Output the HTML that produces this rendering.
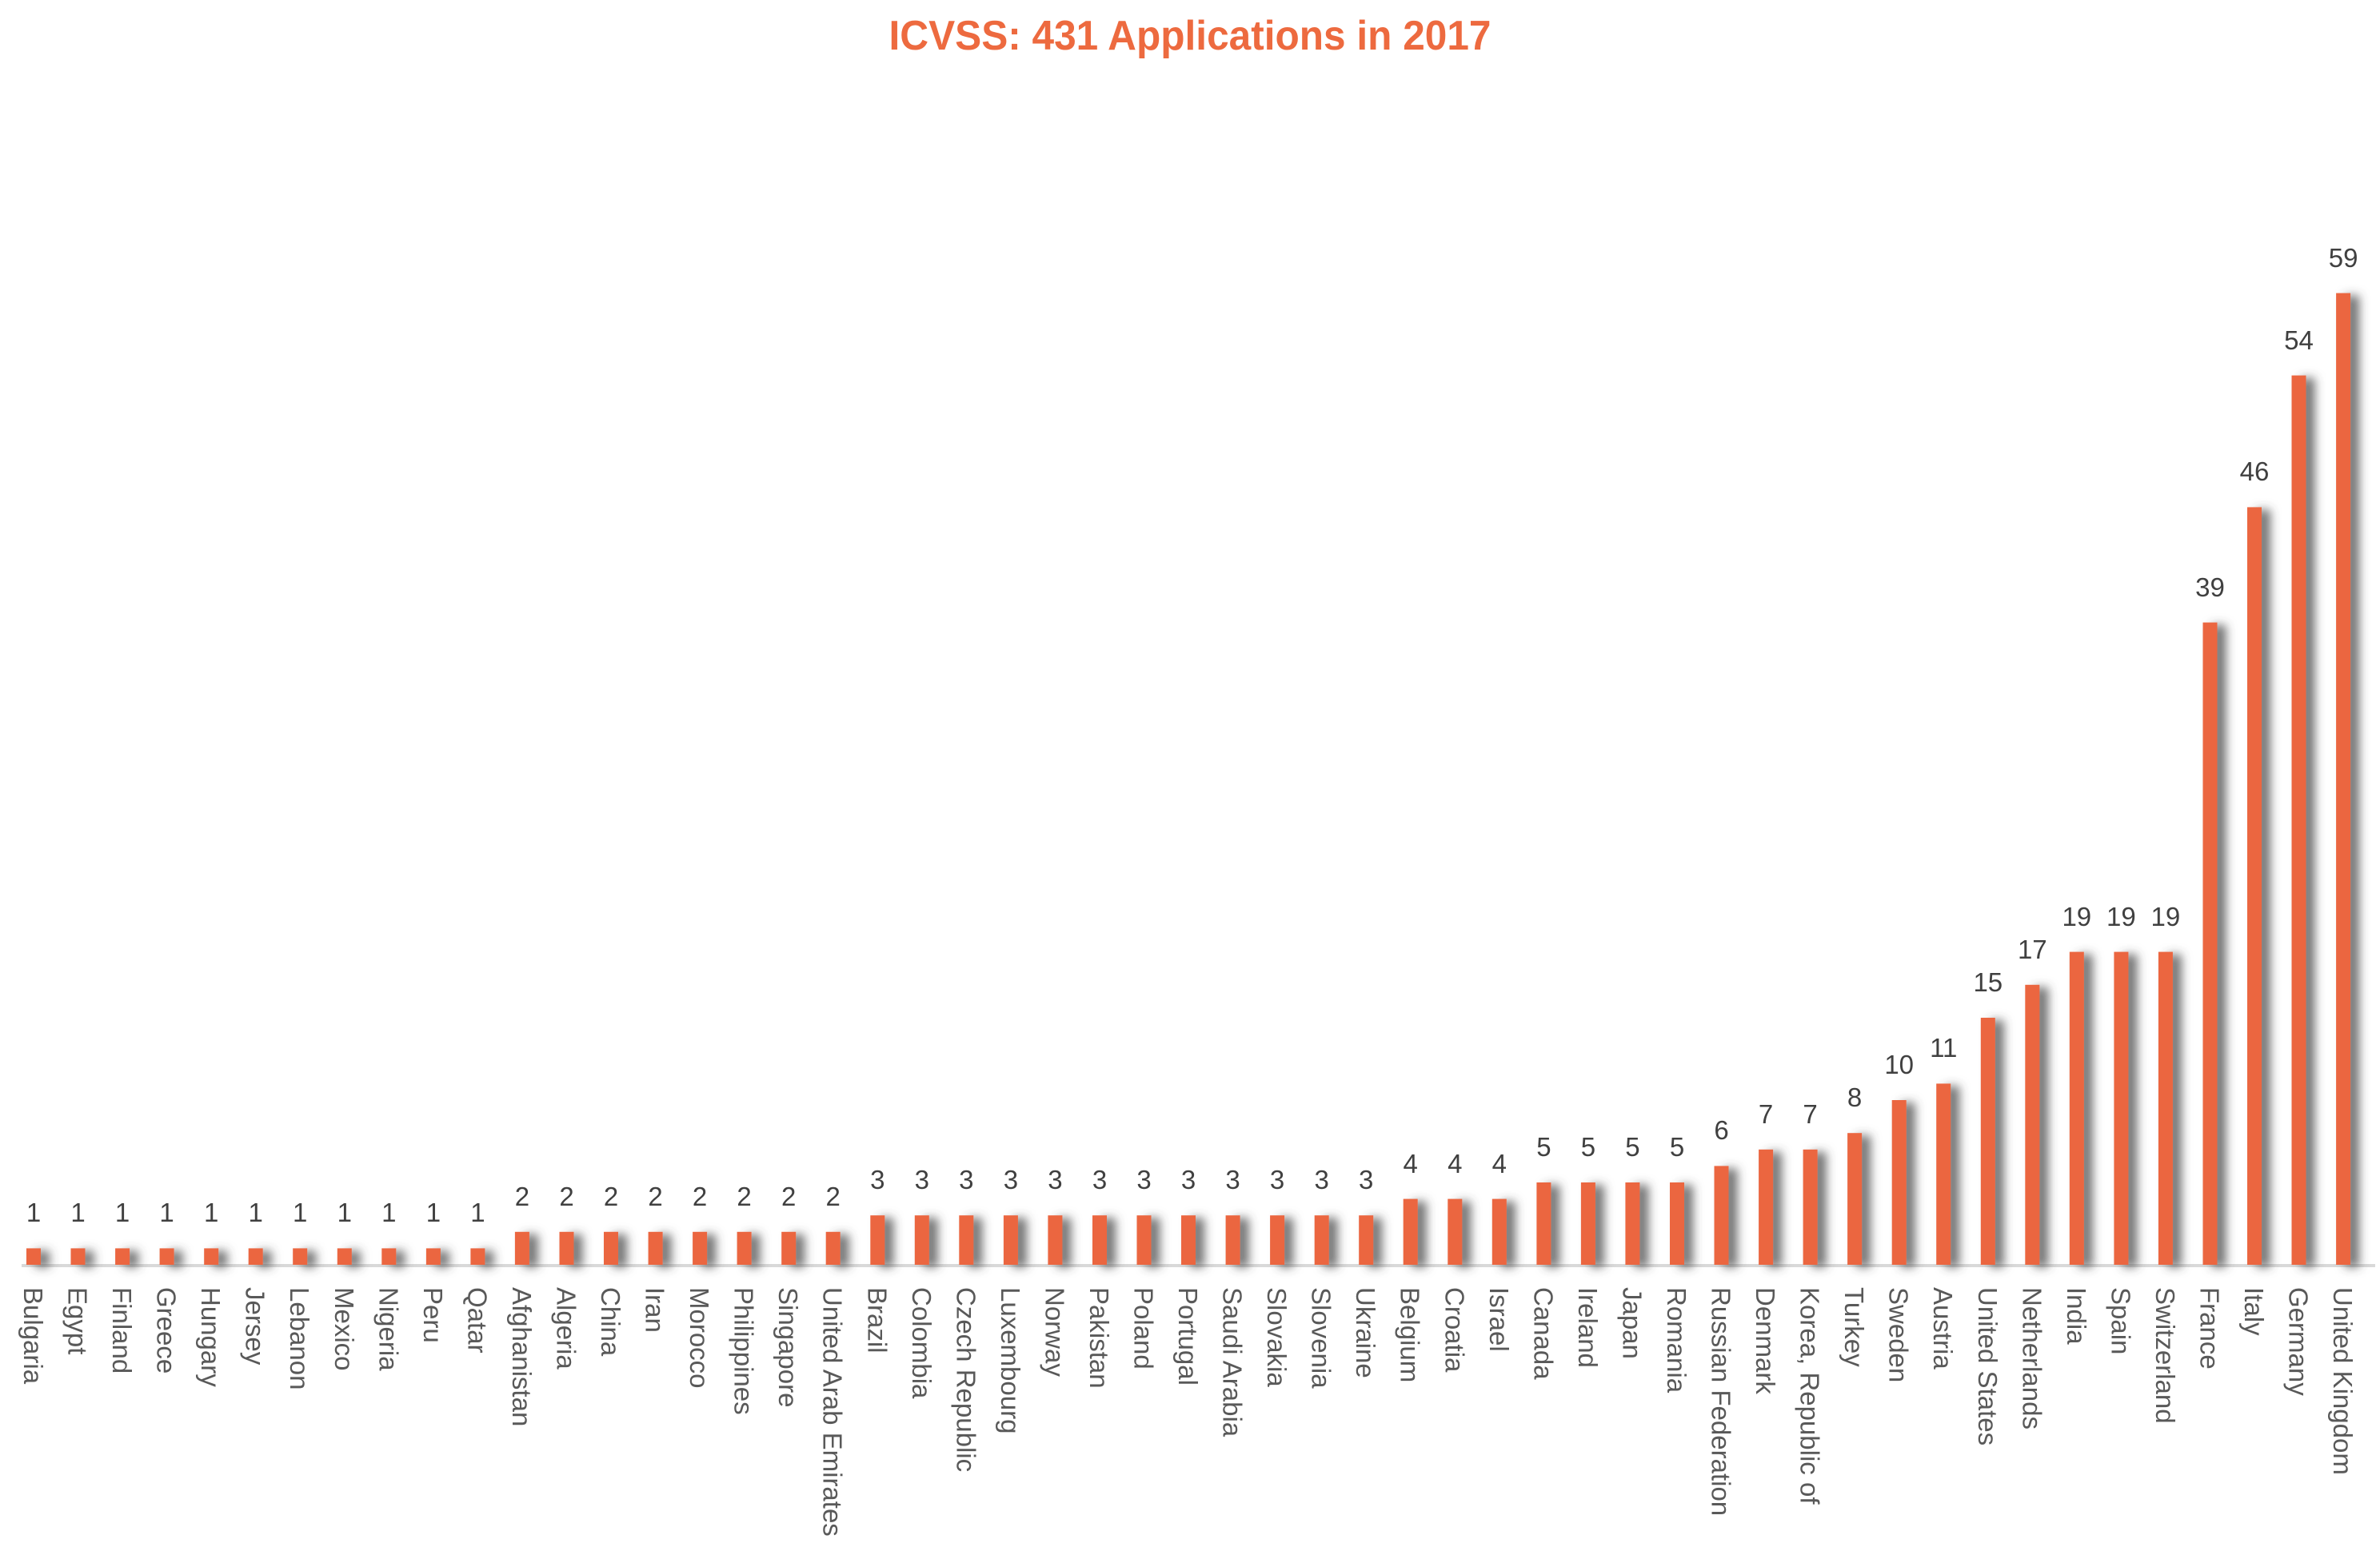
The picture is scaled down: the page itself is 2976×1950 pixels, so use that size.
<!DOCTYPE html>
<html><head><meta charset="utf-8"><style>
html,body{margin:0;padding:0;background:#fff;}
svg{display:block;}
.v{font-family:"Liberation Sans",sans-serif;font-size:33px;fill:#404040;text-anchor:middle;}
.l{font-family:"Liberation Sans",sans-serif;font-size:33px;fill:#595959;}
</style></head><body>
<svg width="2976" height="1950" viewBox="0 0 2976 1950" xmlns="http://www.w3.org/2000/svg">
<defs><filter id="sh" x="-50%" y="-10%" width="300%" height="120%"><feDropShadow dx="11" dy="3" stdDeviation="6" flood-color="#444" flood-opacity="0.75"/></filter></defs>
<rect width="2976" height="1950" fill="#fff"/>
<text x="1488" y="62" text-anchor="middle" font-family="Liberation Sans, sans-serif" font-weight="bold" font-size="52" fill="#ED6A3F" textLength="753" lengthAdjust="spacingAndGlyphs">ICVSS: 431 Applications in 2017</text>
<rect x="27" y="1581" width="2943" height="4" fill="#d9d9d9"/>
<g fill="#EB6640" filter="url(#sh)">
<rect x="33" y="1561.4" width="18" height="20.6"/><rect x="88.5" y="1561.4" width="18" height="20.6"/><rect x="144.1" y="1561.4" width="18" height="20.6"/><rect x="199.6" y="1561.4" width="18" height="20.6"/><rect x="255.2" y="1561.4" width="18" height="20.6"/><rect x="310.7" y="1561.4" width="18" height="20.6"/><rect x="366.2" y="1561.4" width="18" height="20.6"/><rect x="421.8" y="1561.4" width="18" height="20.6"/><rect x="477.3" y="1561.4" width="18" height="20.6"/><rect x="532.9" y="1561.4" width="18" height="20.6"/><rect x="588.4" y="1561.4" width="18" height="20.6"/>
<rect x="643.9" y="1540.8" width="18" height="41.2"/><rect x="699.5" y="1540.8" width="18" height="41.2"/><rect x="755" y="1540.8" width="18" height="41.2"/><rect x="810.6" y="1540.8" width="18" height="41.2"/><rect x="866.1" y="1540.8" width="18" height="41.2"/><rect x="921.6" y="1540.8" width="18" height="41.2"/><rect x="977.2" y="1540.8" width="18" height="41.2"/><rect x="1032.7" y="1540.8" width="18" height="41.2"/>
<rect x="1088.3" y="1520.2" width="18" height="61.8"/><rect x="1143.8" y="1520.2" width="18" height="61.8"/><rect x="1199.3" y="1520.2" width="18" height="61.8"/><rect x="1254.9" y="1520.2" width="18" height="61.8"/><rect x="1310.4" y="1520.2" width="18" height="61.8"/><rect x="1366" y="1520.2" width="18" height="61.8"/><rect x="1421.5" y="1520.2" width="18" height="61.8"/><rect x="1477" y="1520.2" width="18" height="61.8"/><rect x="1532.6" y="1520.2" width="18" height="61.8"/><rect x="1588.1" y="1520.2" width="18" height="61.8"/><rect x="1643.7" y="1520.2" width="18" height="61.8"/><rect x="1699.2" y="1520.2" width="18" height="61.8"/>
<rect x="1754.7" y="1499.6" width="18" height="82.4"/><rect x="1810.3" y="1499.6" width="18" height="82.4"/><rect x="1865.8" y="1499.6" width="18" height="82.4"/>
<rect x="1921.4" y="1479" width="18" height="103"/><rect x="1976.9" y="1479" width="18" height="103"/><rect x="2032.4" y="1479" width="18" height="103"/><rect x="2088" y="1479" width="18" height="103"/>
<rect x="2143.5" y="1458.4" width="18" height="123.6"/>
<rect x="2199.1" y="1437.8" width="18" height="144.2"/><rect x="2254.6" y="1437.8" width="18" height="144.2"/>
<rect x="2310.1" y="1417.2" width="18" height="164.8"/>
<rect x="2365.7" y="1376" width="18" height="206"/>
<rect x="2421.2" y="1355.4" width="18" height="226.6"/>
<rect x="2476.8" y="1273" width="18" height="309"/>
<rect x="2532.3" y="1231.8" width="18" height="350.2"/>
<rect x="2587.8" y="1190.6" width="18" height="391.4"/><rect x="2643.4" y="1190.6" width="18" height="391.4"/><rect x="2698.9" y="1190.6" width="18" height="391.4"/>
<rect x="2754.5" y="778.6" width="18" height="803.4"/>
<rect x="2810" y="634.4" width="18" height="947.6"/>
<rect x="2865.5" y="469.6" width="18" height="1112.4"/>
<rect x="2921.1" y="366.6" width="18" height="1215.4"/>
</g>
<g class="v">
<text x="42" y="1528">1</text><text x="97.5" y="1528">1</text><text x="153.1" y="1528">1</text><text x="208.6" y="1528">1</text><text x="264.2" y="1528">1</text><text x="319.7" y="1528">1</text><text x="375.2" y="1528">1</text><text x="430.8" y="1528">1</text><text x="486.3" y="1528">1</text><text x="541.9" y="1528">1</text><text x="597.4" y="1528">1</text>
<text x="652.9" y="1508">2</text><text x="708.5" y="1508">2</text><text x="764" y="1508">2</text><text x="819.6" y="1508">2</text><text x="875.1" y="1508">2</text><text x="930.6" y="1508">2</text><text x="986.2" y="1508">2</text><text x="1041.7" y="1508">2</text>
<text x="1097.3" y="1487">3</text><text x="1152.8" y="1487">3</text><text x="1208.3" y="1487">3</text><text x="1263.9" y="1487">3</text><text x="1319.4" y="1487">3</text><text x="1375" y="1487">3</text><text x="1430.5" y="1487">3</text><text x="1486" y="1487">3</text><text x="1541.6" y="1487">3</text><text x="1597.1" y="1487">3</text><text x="1652.7" y="1487">3</text><text x="1708.2" y="1487">3</text>
<text x="1763.7" y="1467">4</text><text x="1819.3" y="1467">4</text><text x="1874.8" y="1467">4</text>
<text x="1930.4" y="1446">5</text><text x="1985.9" y="1446">5</text><text x="2041.4" y="1446">5</text><text x="2097" y="1446">5</text>
<text x="2152.5" y="1425">6</text>
<text x="2208.1" y="1405">7</text><text x="2263.6" y="1405">7</text>
<text x="2319.1" y="1384">8</text>
<text x="2374.7" y="1343">10</text>
<text x="2430.2" y="1322">11</text>
<text x="2485.8" y="1240">15</text>
<text x="2541.3" y="1199">17</text>
<text x="2596.8" y="1158">19</text><text x="2652.4" y="1158">19</text><text x="2707.9" y="1158">19</text>
<text x="2763.5" y="746">39</text>
<text x="2819" y="601">46</text>
<text x="2874.5" y="437">54</text>
<text x="2930.1" y="334">59</text>
</g>
<g class="l">
<text transform="translate(30,1610) rotate(90)">Bulgaria</text>
<text transform="translate(85.5,1610) rotate(90)">Egypt</text>
<text transform="translate(141.1,1610) rotate(90)">Finland</text>
<text transform="translate(196.6,1610) rotate(90)">Greece</text>
<text transform="translate(252.2,1610) rotate(90)">Hungary</text>
<text transform="translate(307.7,1610) rotate(90)">Jersey</text>
<text transform="translate(363.2,1610) rotate(90)">Lebanon</text>
<text transform="translate(418.8,1610) rotate(90)">Mexico</text>
<text transform="translate(474.3,1610) rotate(90)">Nigeria</text>
<text transform="translate(529.9,1610) rotate(90)">Peru</text>
<text transform="translate(585.4,1610) rotate(90)">Qatar</text>
<text transform="translate(640.9,1610) rotate(90)">Afghanistan</text>
<text transform="translate(696.5,1610) rotate(90)">Algeria</text>
<text transform="translate(752,1610) rotate(90)">China</text>
<text transform="translate(807.6,1610) rotate(90)">Iran</text>
<text transform="translate(863.1,1610) rotate(90)">Morocco</text>
<text transform="translate(918.6,1610) rotate(90)">Philippines</text>
<text transform="translate(974.2,1610) rotate(90)">Singapore</text>
<text transform="translate(1029.7,1610) rotate(90)">United Arab Emirates</text>
<text transform="translate(1085.3,1610) rotate(90)">Brazil</text>
<text transform="translate(1140.8,1610) rotate(90)">Colombia</text>
<text transform="translate(1196.3,1610) rotate(90)">Czech Republic</text>
<text transform="translate(1251.9,1610) rotate(90)">Luxembourg</text>
<text transform="translate(1307.4,1610) rotate(90)">Norway</text>
<text transform="translate(1363,1610) rotate(90)">Pakistan</text>
<text transform="translate(1418.5,1610) rotate(90)">Poland</text>
<text transform="translate(1474,1610) rotate(90)">Portugal</text>
<text transform="translate(1529.6,1610) rotate(90)">Saudi Arabia</text>
<text transform="translate(1585.1,1610) rotate(90)">Slovakia</text>
<text transform="translate(1640.7,1610) rotate(90)">Slovenia</text>
<text transform="translate(1696.2,1610) rotate(90)">Ukraine</text>
<text transform="translate(1751.7,1610) rotate(90)">Belgium</text>
<text transform="translate(1807.3,1610) rotate(90)">Croatia</text>
<text transform="translate(1862.8,1610) rotate(90)">Israel</text>
<text transform="translate(1918.4,1610) rotate(90)">Canada</text>
<text transform="translate(1973.9,1610) rotate(90)">Ireland</text>
<text transform="translate(2029.4,1610) rotate(90)">Japan</text>
<text transform="translate(2085,1610) rotate(90)">Romania</text>
<text transform="translate(2140.5,1610) rotate(90)">Russian Federation</text>
<text transform="translate(2196.1,1610) rotate(90)">Denmark</text>
<text transform="translate(2251.6,1610) rotate(90)">Korea, Republic of</text>
<text transform="translate(2307.1,1610) rotate(90)">Turkey</text>
<text transform="translate(2362.7,1610) rotate(90)">Sweden</text>
<text transform="translate(2418.2,1610) rotate(90)">Austria</text>
<text transform="translate(2473.8,1610) rotate(90)">United States</text>
<text transform="translate(2529.3,1610) rotate(90)">Netherlands</text>
<text transform="translate(2584.8,1610) rotate(90)">India</text>
<text transform="translate(2640.4,1610) rotate(90)">Spain</text>
<text transform="translate(2695.9,1610) rotate(90)">Switzerland</text>
<text transform="translate(2751.5,1610) rotate(90)">France</text>
<text transform="translate(2807,1610) rotate(90)">Italy</text>
<text transform="translate(2862.5,1610) rotate(90)">Germany</text>
<text transform="translate(2918.1,1610) rotate(90)">United Kingdom</text>
</g>
</svg>
</body></html>
